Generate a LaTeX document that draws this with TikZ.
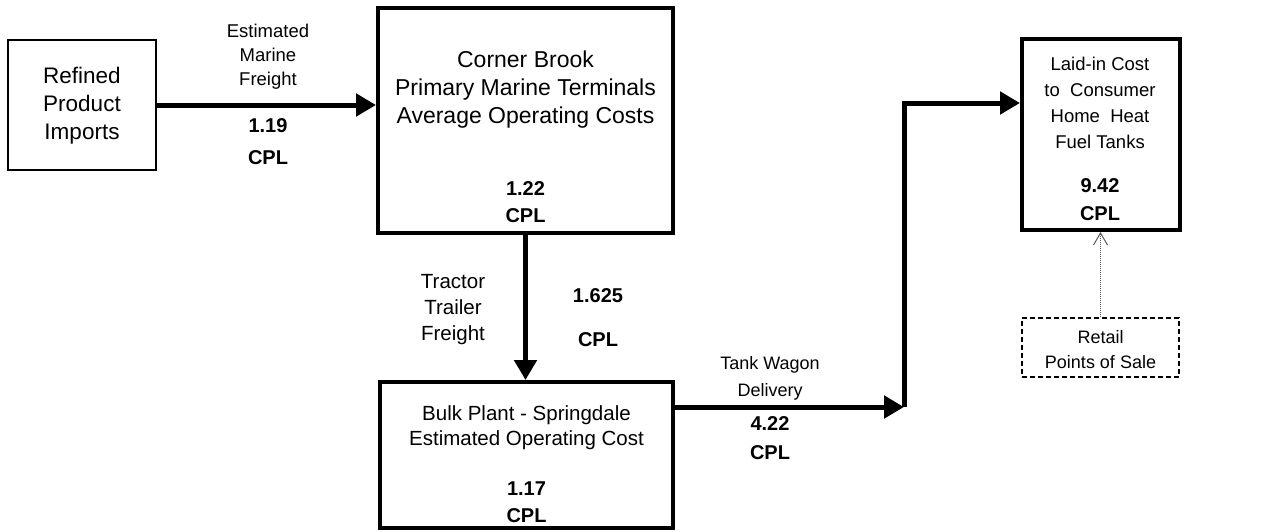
\documentclass[tikz,border=0pt]{standalone}
\usepackage{fontspec}
\setmainfont{Liberation Sans}
\usetikzlibrary{arrows.meta}

\begin{document}
\begin{tikzpicture}[x=1pt, y=-1pt,
    box/.style={draw, line width=4pt, inner sep=0pt},
    txt/.style={align=center, inner sep=0pt},
    val/.style={align=center, inner sep=0pt, font=\fontsize{20}{27}\selectfont\bfseries},
    flow/.style={line width=5pt, -{Triangle[length=20pt, width=22pt]}}]
    % Page of the same size as the reference (1271 x 531, y pointing down)
    \useasboundingbox (0,0) rectangle (1271,531);

    % Boxes
    \node[box, line width=2.5pt, minimum width=148pt, minimum height=130pt] (imp) at (82,105) {};
    \node[box, minimum width=295pt, minimum height=225pt] (cb) at (525.5,120.5) {};
    \node[box, minimum width=293pt, minimum height=146pt] (bulk) at (526.5,455) {};
    \node[box, minimum width=158pt, minimum height=191pt] (lic) at (1101,134.5) {};
    \node[draw, line width=1.4pt, dash pattern=on 5pt off 3pt, minimum width=157pt, minimum height=59pt] (retail) at (1100.5,347.5) {};

    % Texts inside the boxes
    \node[txt, font=\fontsize{22.5}{28}\selectfont] (impname) at (82,106) {Refined\\Product\\Imports};
    \node[txt, font=\fontsize{23}{28}\selectfont] (cbname) at (525.5,90) {Corner Brook\\Primary Marine Terminals\\Average Operating Costs};
    \node[val] (cbcost) at (525.5,202) {1.22\\CPL};
    \node[txt, font=\fontsize{20.5}{25}\selectfont] (bulkname) at (526.5,428) {Bulk Plant - Springdale\\Estimated Operating Cost};
    \node[val] (bulkcost) at (526.5,502) {1.17\\CPL};
    \node[txt, font=\fontsize{18.5}{26}\selectfont] (licname) at (1100,103) {Laid-in Cost\\to~~Consumer\\Home~~Heat\\Fuel Tanks};
    \node[val, font=\fontsize{20}{28}\selectfont\bfseries] (liccost) at (1100,200) {9.42\\CPL};
    \node[txt, font=\fontsize{18}{25}\selectfont] (retailname) at (1100.5,350) {Retail\\Points of Sale};

    % Freight labels
    \node[txt, font=\fontsize{18.5}{24}\selectfont] (marine) at (268,57) {Estimated\\Marine\\Freight};
    \node[val, font=\fontsize{20}{32}\selectfont\bfseries] (marinecost) at (268,142) {1.19\\CPL};
    \node[txt, font=\fontsize{20.5}{26}\selectfont] (tractor) at (453,310) {Tractor\\Trailer\\Freight};
    \node[val, font=\fontsize{20}{44}\selectfont\bfseries] (tractorcost) at (598,318) {1.625\\CPL};
    \node[txt, font=\fontsize{18}{27}\selectfont] (wagon) at (770,378) {Tank Wagon\\Delivery};
    \node[val, font=\fontsize{20}{29}\selectfont\bfseries] (wagoncost) at (770,438) {4.22\\CPL};

    % Connectors
    \coordinate (tw) at (904,407);
    \coordinate (tj) at (904,103);
    \draw[flow] (imp.east) -- (imp.east -| cb.west);
    \draw[flow] (cb.south) -- (cb.south |- bulk.north);
    \draw[flow] (bulk.east |- tw) -- (tw);
    \draw[flow] (tw) -- (tj) -- (tj -| lic.west);
    \draw[gray!70!black, line width=1pt, densely dotted, -{Straight Barb[length=12pt, width=14pt]}] (retail.north) -- (retail.north |- lic.south);
\end{tikzpicture}
\end{document}
